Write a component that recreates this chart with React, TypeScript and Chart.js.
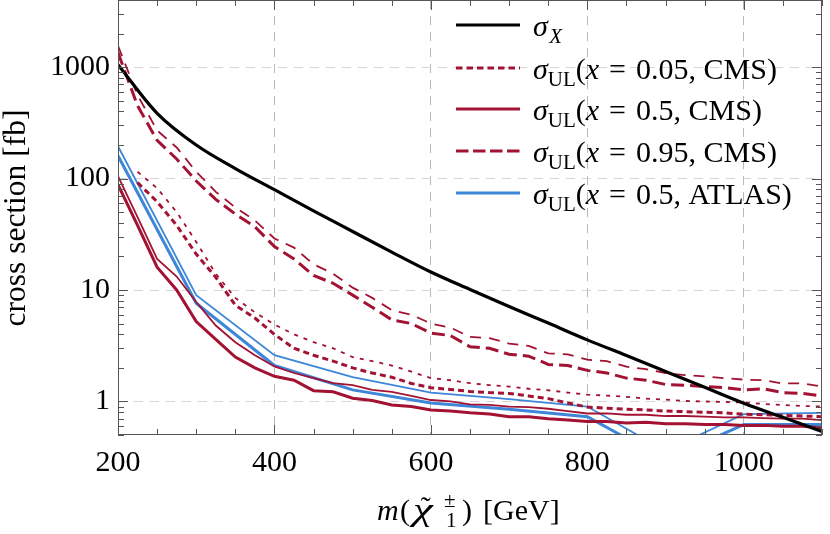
import React, { useEffect, useRef } from "react";
import { Chart, registerables } from "chart.js";
Chart.register(...registerables);

const SERIF = "'Liberation Serif', 'Times New Roman', serif";
const RED = "#A31232";
const BLUE = "#3D86D8";

// masses (GeV)
const massX = [200, 250, 300, 350, 400, 450, 500, 550, 600, 650, 700, 750, 800, 850, 900, 950, 1000, 1050, 1100];
const massCMS = [200, 225, 250, 275, 300, 325, 350, 375, 400, 425, 450, 475, 500, 525, 550, 575, 600, 625, 650, 675, 700, 725, 750, 775, 800, 825, 850, 875, 900, 925, 950, 975, 1000, 1025, 1050, 1075, 1100];
const massATLAS = [200, 300, 400, 500, 600, 700, 800, 900, 1000, 1100];

// cross sections (fb)
const sigmaX = [1050, 385, 200, 123, 79.4, 51.3, 33.5, 21.9, 14.5, 10.1, 7.1, 5.05, 3.57, 2.58, 1.86, 1.34, 0.965, 0.72, 0.538];

const cms005Obs = [null, 115, 82, 50, 27, 14, 8.5, 6.3, 4.9, 4.0, 3.4, 3.0, 2.5, 2.3, 2.1, 1.85, 1.62, 1.55, 1.46, 1.40, 1.36, 1.30, 1.26, 1.20, 1.15, 1.13, 1.10, 1.06, 1.04, 1.01, 1.0, 0.99, 0.98, 0.95, 0.93, 0.91, 0.90];
const cms005Exp = [null, 92, 62, 38, 21, 13, 7.3, 5.6, 4.0, 3.0, 2.6, 2.3, 2.0, 1.8, 1.65, 1.45, 1.33, 1.28, 1.23, 1.20, 1.18, 1.12, 1.06, 0.97, 0.89, 0.87, 0.85, 0.84, 0.82, 0.81, 0.80, 0.79, 0.77, 0.76, 0.75, 0.74, 0.73];

const cms05Obs = [105, 45, 19, 13.2, 7.8, 4.8, 3.4, 2.6, 2.06, 1.8, 1.62, 1.46, 1.40, 1.27, 1.22, 1.12, 1.03, 1.0, 0.94, 0.93, 0.90, 0.89, 0.86, 0.82, 0.78, 0.78, 0.76, 0.76, 0.74, 0.74, 0.73, 0.72, 0.72, 0.71, 0.70, 0.70, 0.68];
const cms05Exp = [88, 38, 16, 10, 5.2, 3.6, 2.5, 2.0, 1.68, 1.55, 1.25, 1.22, 1.07, 1.02, 0.93, 0.90, 0.84, 0.82, 0.79, 0.77, 0.73, 0.73, 0.70, 0.68, 0.66, 0.66, 0.64, 0.65, 0.63, 0.63, 0.62, 0.62, 0.61, 0.61, 0.60, 0.60, 0.58];

const cms095Obs = [1550, 560, 270, 190, 115, 76, 55, 42, 29, 24, 17, 14, 10.5, 8.5, 6.6, 6.0, 5.0, 4.6, 3.8, 3.7, 3.3, 3.15, 2.7, 2.65, 2.37, 2.3, 2.05, 1.95, 1.8, 1.72, 1.68, 1.62, 1.57, 1.55, 1.45, 1.45, 1.36];
const cms095Exp = [1350, 450, 220, 150, 95, 65, 48, 37, 24.5, 19, 13.5, 11.5, 9.0, 7.0, 5.4, 5.0, 4.1, 3.9, 3.1, 3.0, 2.65, 2.55, 2.15, 2.1, 1.9, 1.8, 1.62, 1.55, 1.42, 1.40, 1.36, 1.33, 1.27, 1.30, 1.20, 1.18, 1.12];

const atlas05Obs = [195, 9.0, 2.6, 1.65, 1.2, 1.05, 0.90, 0.36, 0.77, 0.79];
const atlas05Exp = [160, 7.6, 2.1, 1.27, 0.97, 0.85, 0.73, 0.30, 0.62, 0.62];

// axis ticks
const xMajor = [200, 400, 600, 800, 1000];
const xMinor = [250, 300, 350, 450, 500, 550, 650, 700, 750, 850, 900, 950, 1050, 1100];
const yMajor = [1, 10, 100, 1000];
const yMinor = [0.5, 0.6, 0.7, 0.8, 0.9, 2, 3, 4, 5, 6, 7, 8, 9, 20, 30, 40, 50, 60, 70, 80, 90, 200, 300, 400, 500, 600, 700, 800, 900, 2000, 3000, 4000];

// legend
const legendValues = ["0.05, CMS)", "0.5, CMS)", "0.95, CMS)", "0.5, ATLAS)"];
const yTitle = "cross section [fb]";

type Seg = { t: string; it?: boolean; size: number; dy?: number };

function drawRich(ctx: CanvasRenderingContext2D, x: number, y: number, segs: Seg[]) {
  for (const s of segs) {
    ctx.font = `${s.it ? "italic " : ""}${s.size}px ${SERIF}`;
    ctx.fillText(s.t, x, y + (s.dy || 0));
    x += ctx.measureText(s.t).width;
  }
  return x;
}

function pts(xs: number[], ys: (number | null)[]) {
  return xs.map((m, i) => ({ x: m, y: ys[i] }));
}

const overlay = {
  id: "overlay",
  afterDraw(chart: any) {
    const ctx: CanvasRenderingContext2D = chart.ctx;
    const a = chart.chartArea;
    const xs = chart.scales.x;
    const ys = chart.scales.y;
    ctx.save();
    // frame
    ctx.strokeStyle = "#555";
    ctx.lineWidth = 1;
    ctx.setLineDash([]);
    ctx.strokeRect(a.left + 0.5, a.top + 0.5, a.right - a.left - 1, a.bottom - a.top - 1);
    // ticks
    ctx.beginPath();
    const xt = (v: number, len: number) => {
      const p = Math.round(xs.getPixelForValue(v)) + 0.5;
      ctx.moveTo(p, a.bottom);
      ctx.lineTo(p, a.bottom - len);
      ctx.moveTo(p, a.top);
      ctx.lineTo(p, a.top + len);
    };
    const yt = (v: number, len: number) => {
      const p = Math.round(ys.getPixelForValue(v)) + 0.5;
      ctx.moveTo(a.left, p);
      ctx.lineTo(a.left + len, p);
      ctx.moveTo(a.right, p);
      ctx.lineTo(a.right - len, p);
    };
    xMajor.forEach((v) => xt(v, 10));
    xMinor.forEach((v) => xt(v, 6));
    yMajor.forEach((v) => yt(v, 10));
    yMinor.forEach((v) => yt(v, 6));
    ctx.stroke();

    // legend
    ctx.fillStyle = "#000";
    ctx.textAlign = "left";
    ctx.textBaseline = "alphabetic";
    const rowsY = [25, 68, 109, 151, 193];
    const ds = chart.data.datasets;
    const sampleIdx = [0, 2, 4, 6, 8];
    rowsY.forEach((ry, r) => {
      const d = ds[sampleIdx[r]];
      ctx.beginPath();
      ctx.strokeStyle = d.borderColor;
      ctx.lineWidth = 3;
      ctx.setLineDash(r === 1 ? [6.5, 4] : r === 3 ? [12.5, 4.5] : []);
      ctx.moveTo(456, ry);
      ctx.lineTo(520, ry);
      ctx.stroke();
      ctx.setLineDash([]);
      const by = ry + 11;
      if (r === 0) {
        drawRich(ctx, 533, by, [
          { t: "σ", it: true, size: 30 },
          { t: " ", size: 6 },
          { t: "X", it: true, size: 21, dy: 7 },
        ]);
      } else {
        drawRich(ctx, 533, by, [
          { t: "σ", it: true, size: 30 },
          { t: "UL", size: 21, dy: 7 },
          { t: "(", size: 30 },
          { t: "x", it: true, size: 30 },
          { t: "\u2004=\u2004" + legendValues[r - 1], size: 30 },
        ]);
      }
    });

    // x title
    const by = 520;
    ctx.font = `italic 30px ${SERIF}`;
    ctx.fillText("m", 377, by);
    ctx.font = `30px ${SERIF}`;
    ctx.fillText("(", 400, by);
    ctx.save();
    ctx.translate(413, by);
    ctx.scale(1.4, 1);
    ctx.font = `italic 32px ${SERIF}`;
    const wc = ctx.measureText("χ").width;
    ctx.fillText("χ", 0, 0);
    ctx.restore();
    ctx.textAlign = "center";
    ctx.font = `30px ${SERIF}`;
    ctx.fillText("˜", 413 + (wc * 1.4) / 2 + 3, by - 3);
    ctx.textAlign = "left";
    ctx.font = `21px ${SERIF}`;
    ctx.fillText("±", 444, by - 13);
    ctx.fillText("1", 446, by + 7);
    ctx.font = `30px ${SERIF}`;
    ctx.fillText(")", 462, by);
    ctx.fillText("[GeV]", 483, by);

    // y title
    ctx.save();
    ctx.translate(25, 218);
    ctx.rotate(-Math.PI / 2);
    ctx.textAlign = "center";
    ctx.font = `31.5px ${SERIF}`;
    ctx.fillText(yTitle, 0, 0);
    ctx.restore();

    ctx.restore();
  },
};

export default function App() {
  const ref = useRef<HTMLCanvasElement>(null);
  useEffect(() => {
    document.body.style.margin = "0";
    const canvas = ref.current!;
    const line = (data: any[], color: string, width: number, dash: number[], extra: any = {}) => ({
      data,
      borderColor: color,
      backgroundColor: color,
      borderWidth: width,
      borderDash: dash,
      pointRadius: 0,
      fill: false,
      tension: 0,
      clip: 0,
      ...extra,
    });
    const chart = new Chart(canvas, {
      type: "line",
      data: {
        datasets: [
          line(pts(massX, sigmaX), "#000", 3.2, [], { cubicInterpolationMode: "monotone" }),
          line(pts(massCMS, cms005Obs), RED, 1.8, [4, 6]),
          line(pts(massCMS, cms005Exp), RED, 3, [6, 4]),
          line(pts(massCMS, cms05Obs), RED, 1.8, []),
          line(pts(massCMS, cms05Exp), RED, 3, []),
          line(pts(massCMS, cms095Obs), RED, 1.8, [11, 8]),
          line(pts(massCMS, cms095Exp), RED, 3, [13, 6]),
          line(pts(massATLAS, atlas05Obs), BLUE, 1.8, []),
          line(pts(massATLAS, atlas05Exp), BLUE, 3, []),
        ] as any,
      },
      options: {
        animation: false,
        responsive: false,
        events: [],
        layout: { padding: { left: 0, right: 8, top: 0, bottom: 0 } },
        plugins: { legend: { display: false }, tooltip: { enabled: false } },
        scales: {
          x: {
            type: "linear",
            min: 200,
            max: 1100,
            afterBuildTicks: (s: any) => {
              s.ticks = xMajor.map((v) => ({ value: v }));
            },
            afterFit: (s: any) => {
              s.height = 99;
              s.paddingLeft = 0;
              s.paddingRight = 0;
              s.paddingTop = 0;
              s.paddingBottom = 0;
            },
            ticks: {
              font: { family: SERIF, size: 30 },
              color: "#000",
              padding: 10,
              maxRotation: 0,
              autoSkip: false,
              callback: (v: any) => String(v),
            },
            grid: { color: "#b8b8b8", drawTicks: false, lineWidth: 1 },
            border: { display: false, dash: [9, 7] },
          },
          y: {
            type: "logarithmic",
            min: 0.5,
            max: 4000,
            afterBuildTicks: (s: any) => {
              s.ticks = yMajor.map((v) => ({ value: v }));
            },
            afterFit: (s: any) => {
              s.width = 118;
              s.paddingLeft = 0;
              s.paddingRight = 0;
              s.paddingTop = 0;
              s.paddingBottom = 0;
            },
            ticks: {
              font: { family: SERIF, size: 30 },
              color: "#000",
              padding: 8,
              autoSkip: false,
              callback: (v: any) => String(v),
            },
            grid: { color: "#d6d6d6", drawTicks: false, lineWidth: 1 },
            border: { display: false, dash: [9, 7] },
          },
        },
      } as any,
      plugins: [overlay],
    });
    return () => chart.destroy();
  }, []);
  return (
    <div style={{ position: "relative", width: 830, height: 534 }}>
      <canvas ref={ref} width={830} height={534} style={{ display: "block" }} />
    </div>
  );
}
